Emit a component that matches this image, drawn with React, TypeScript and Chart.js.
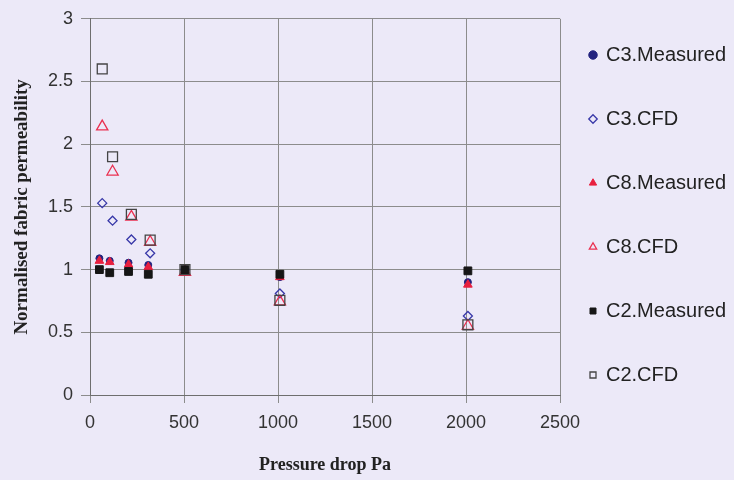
import React, { useEffect, useRef } from 'react';
import { Chart, registerables } from 'chart.js';

Chart.register(...registerables);

// ---- data ----
const seriesNames = ['C3.Measured', 'C3.CFD', 'C8.Measured', 'C8.CFD', 'C2.Measured', 'C2.CFD'];

const measuredPressure = [50, 105, 205, 310, 505, 1010, 2010];
const cfdPressure = [65, 120, 220, 320, 505, 1010, 2010];

const c3Measured = [1.09, 1.07, 1.055, 1.037, 1.0, 0.94, 0.9];
const c3Cfd = [1.53, 1.39, 1.24, 1.13, 1.0, 0.81, 0.63];
const c8Measured = [1.07, 1.06, 1.04, 1.02, 0.98, 0.94, 0.88];
const c8Cfd = [2.14, 1.78, 1.42, 1.22, 0.98, 0.745, 0.55];
const c2Measured = [1.0, 0.975, 0.985, 0.963, 1.0, 0.963, 0.99];
const c2Cfd = [2.6, 1.9, 1.44, 1.235, 1.0, 0.755, 0.56];

const xTickLabels = ['0', '500', '1000', '1500', '2000', '2500'];
const yTickLabels = ['0', '0.5', '1', '1.5', '2', '2.5', '3'];

const xTitle = 'Pressure drop Pa';
const yTitle = 'Normalised fabric permeability';

const zip = (xs: number[], ys: number[]) => ys.map((y, i) => ({ x: xs[i], y }));

const legendShift = {
  id: 'legendShift',
  afterLayout(chart: any) {
    const lg = chart.legend;
    if (!lg) return;
    lg.left -= 14;
    lg.top -= 5;
  },
};

export default function App() {
  const ref = useRef<HTMLCanvasElement | null>(null);

  useEffect(() => {
    if (!ref.current) return;
    const sans = "'Liberation Sans', Arial, sans-serif";
    const serif = "'Liberation Serif', 'Times New Roman', serif";
    const transparent = 'rgba(0,0,0,0)';
    const chart = new Chart(ref.current, {
      type: 'scatter',
      data: {
        datasets: [
          {
            label: seriesNames[0],
            data: zip(measuredPressure, c3Measured),
            pointStyle: 'circle',
            pointRadius: 3.5,
            backgroundColor: '#23237f',
            borderColor: '#23237f',
            borderWidth: 1,
            order: 6,
          },
          {
            label: seriesNames[1],
            data: zip(cfdPressure, c3Cfd),
            pointStyle: 'rectRot',
            pointRadius: 4.5,
            backgroundColor: transparent,
            borderColor: '#3838a8',
            borderWidth: 1.3,
            order: 5,
          },
          {
            label: seriesNames[2],
            data: zip(measuredPressure, c8Measured),
            pointStyle: 'triangle',
            pointRadius: 5,
            backgroundColor: '#e8203f',
            borderColor: '#e8203f',
            borderWidth: 1,
            order: 4,
          },
          {
            label: seriesNames[3],
            data: zip(cfdPressure, c8Cfd),
            pointStyle: 'triangle',
            pointRadius: 6.5,
            backgroundColor: transparent,
            borderColor: '#ea3050',
            borderWidth: 1.3,
            order: 3,
          },
          {
            label: seriesNames[4],
            data: zip(measuredPressure, c2Measured),
            pointStyle: 'rect',
            pointRadius: 5.5,
            backgroundColor: '#161616',
            borderColor: '#161616',
            borderWidth: 1,
            order: 2,
          },
          {
            label: seriesNames[5],
            data: zip(cfdPressure, c2Cfd),
            pointStyle: 'rect',
            pointRadius: 7,
            backgroundColor: transparent,
            borderColor: '#444444',
            borderWidth: 1.3,
            order: 1,
          },
        ],
      },
      options: {
        animation: false,
        responsive: true,
        maintainAspectRatio: false,
        events: [],
        layout: { padding: { top: 6, left: 0, right: 0, bottom: 4 } },
        plugins: {
          tooltip: { enabled: false },
          legend: {
            display: true,
            position: 'right',
            align: 'start',
            reverse: true,
            maxWidth: 174,
            labels: {
              usePointStyle: true,
              boxWidth: 6,
              boxHeight: 6,
              padding: 44,
              color: '#222',
              font: { family: sans, size: 20 },
            },
          },
        },
        scales: {
          x: {
            type: 'linear',
            min: 0,
            max: 2500,
            afterFit: (s: any) => {
              s.height = 81;
            },
            ticks: {
              stepSize: 500,
              padding: 9,
              color: '#333',
              font: { family: sans, size: 18 },
              callback: (_v: any, i: number) => xTickLabels[i],
            },
            grid: { color: '#8c8c8c', lineWidth: 1, tickLength: 8 },
            border: { display: true, color: '#6e6e6e', width: 1 },
            title: {
              display: true,
              text: xTitle,
              color: '#222',
              font: { family: serif, size: 18, weight: 'bold' },
              padding: { top: 0, bottom: 0 },
            },
          },
          y: {
            type: 'linear',
            min: 0,
            max: 3,
            afterFit: (s: any) => {
              s.width = 90;
            },
            ticks: {
              stepSize: 0.5,
              padding: 8,
              color: '#333',
              font: { family: sans, size: 18 },
              callback: (_v: any, i: number) => yTickLabels[i],
            },
            grid: { color: '#8c8c8c', lineWidth: 1, tickLength: 9 },
            border: { display: true, color: '#6e6e6e', width: 1 },
            title: {
              display: true,
              text: yTitle,
              color: '#222',
              font: { family: serif, size: 19, weight: 'bold' },
              padding: { top: 11, bottom: 0 },
            },
          },
        },
      },
      plugins: [legendShift],
    } as any);
    return () => chart.destroy();
  }, []);

  return (
    <div
      style={{
        position: 'fixed',
        left: 0,
        top: 0,
        width: 734,
        height: 480,
        background: '#ece9f8',
      }}
    >
      <canvas ref={ref} />
    </div>
  );
}
